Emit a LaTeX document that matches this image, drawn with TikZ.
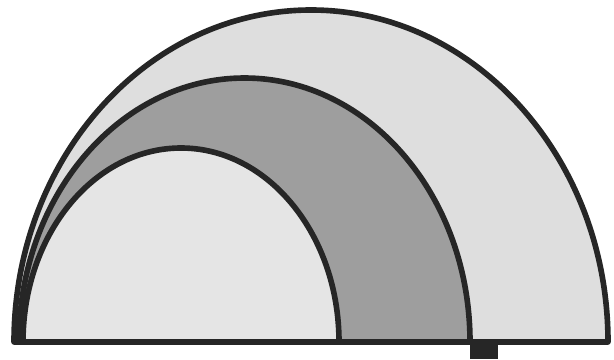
\documentclass[tikz,border=0pt]{standalone}
\usepackage{tikz}
\usetikzlibrary{calc}
\tikzstyle{band} = [line width=8pt, draw=black!85, line join=round]
\tikzstyle{outerband} = [band, fill=black!13]
\tikzstyle{midband} = [band, fill=black!38]
\tikzstyle{innerband} = [band, fill=black!10]
\begin{document}
\begin{tikzpicture}[x=0.05cm, y=-0.05cm]
            \useasboundingbox (0,0) rectangle (614,359);
            % outer, middle and inner half rings on one base line
            \draw [outerband] (14,342) arc (180:360:297 and 332) -- cycle;
            \draw [midband] (19,342) arc (180:360:225.5 and 264) -- cycle;
            \draw [innerband] (23,342) arc (180:360:158 and 194) -- cycle;
            % stub under the base line
            \fill [black!85] (470,342) rectangle (498,359);
        \end{tikzpicture}
\end{document}
